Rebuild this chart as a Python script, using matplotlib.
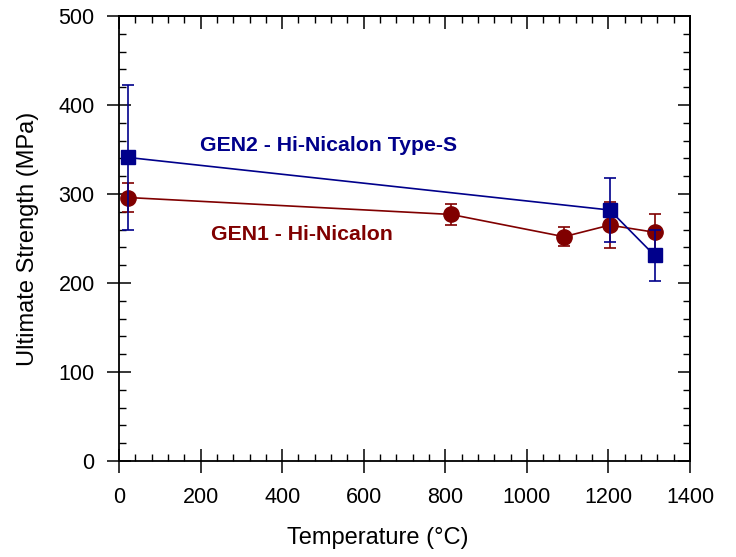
import numpy as np
import matplotlib.pyplot as plt
from matplotlib.ticker import MultipleLocator

plt.rcParams['font.family'] = ['Liberation Sans', 'DejaVu Sans']

# GEN2 - Hi-Nicalon Type-S
gen2_temp = [23, 1203, 1313]
gen2_strength = [341, 282, 231]
gen2_err = [82, 36, 29]

# GEN1 - Hi-Nicalon
gen1_temp = [23, 814, 1091, 1203, 1313]
gen1_strength = [296, 277, 252, 265, 257]
gen1_err = [16, 12, 11, 26, 20]

blue = '#00008B'
red = '#800000'

fig = plt.figure(figsize=(7.36, 5.57), dpi=100)
ax = fig.add_axes([0.1617, 0.1724, 0.9375 - 0.1617, 0.9713 - 0.1724])

ax.errorbar(gen2_temp, gen2_strength, yerr=gen2_err, color=blue, marker='s',
            markersize=10.5, lw=1.2, elinewidth=1.2, capsize=4.5, capthick=1.2, zorder=3)
ax.errorbar(gen1_temp, gen1_strength, yerr=gen1_err, color=red, marker='o',
            markersize=11, lw=1.2, elinewidth=1.2, capsize=4.5, capthick=1.2, zorder=2)

ax.text(198, 355, 'GEN2 - Hi-Nicalon Type-S', color=blue, fontsize=15.3,
        fontweight='bold', va='center', ha='left')
ax.text(225, 255, 'GEN1 - Hi-Nicalon', color=red, fontsize=15.3,
        fontweight='bold', va='center', ha='left')

ax.set_xlim(0, 1400)
ax.set_ylim(0, 500)
ax.xaxis.set_major_locator(MultipleLocator(200))
ax.xaxis.set_minor_locator(MultipleLocator(40))
ax.yaxis.set_major_locator(MultipleLocator(100))
ax.yaxis.set_minor_locator(MultipleLocator(20))

ax.tick_params(which='major', direction='inout', length=17, width=1.1, labelsize=15.5)
ax.tick_params(axis='x', which='major', pad=10)
ax.tick_params(axis='y', which='major', pad=9)
ax.tick_params(which='minor', direction='in', length=5, width=1.0)

# inward ticks on top and right
top = ax.secondary_xaxis('top')
top.xaxis.set_major_locator(MultipleLocator(200))
top.xaxis.set_minor_locator(MultipleLocator(40))
top.tick_params(which='major', direction='in', length=9, width=1.1, labeltop=False)
top.tick_params(which='minor', direction='in', length=5, width=1.0)
right = ax.secondary_yaxis('right')
right.yaxis.set_major_locator(MultipleLocator(100))
right.yaxis.set_minor_locator(MultipleLocator(20))
right.tick_params(which='major', direction='in', length=9, width=1.1, labelright=False)
right.tick_params(which='minor', direction='in', length=5, width=1.0)

for s in ax.spines.values():
    s.set_linewidth(1.3)
top.spines['top'].set_linewidth(1.3)
right.spines['right'].set_linewidth(1.3)

ax.set_xlabel('Temperature (°C)', fontsize=17, labelpad=14)
ax.xaxis.label.set_x(0.454)
ax.set_ylabel('Ultimate Strength (MPa)', fontsize=17, labelpad=14)

fig.savefig('out.png', dpi=100)
